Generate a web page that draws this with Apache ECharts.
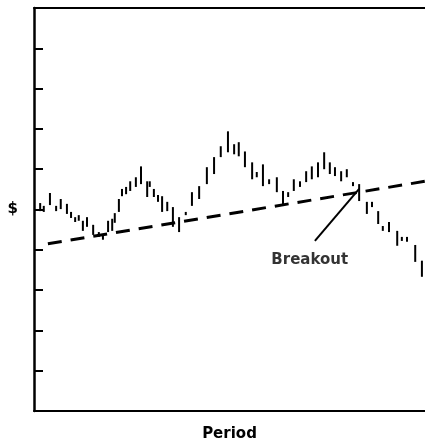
<!DOCTYPE html>
<html>
<head>
<meta charset="utf-8">
<script src="https://cdn.jsdelivr.net/npm/echarts@6/dist/echarts.min.js"></script>
<style>
  html, body { margin: 0; padding: 0; background: #fff; }
  #chart { width: 425px; height: 447px; }
</style>
</head>
<body>
<div id="chart"></div>
<script>
// period position of each price bar
const periods = [1.2, 1.9, 3.1, 4.3, 5.2, 6.4, 7.2, 8.0, 8.7, 9.5,
  10.3, 11.5, 12.6, 13.4, 14.4, 15.2, 15.7, 16.5, 17.1, 17.9,
  18.7, 19.8, 20.8, 22.0, 22.5, 23.3, 24.1, 24.9, 25.9, 27.0,
  28.2, 29.5, 30.7, 32.1, 33.6, 35.0, 36.3, 37.7, 38.9, 39.8,
  41.0, 42.4, 43.3, 44.5, 45.7, 47.2, 48.4, 49.4, 50.5, 51.7,
  52.9, 54.0, 55.2, 56.4, 57.5, 58.5, 59.7, 60.8, 62.0, 63.2,
  64.7, 65.7, 66.9, 67.8, 69.0, 70.6, 71.5, 72.5, 74.1, 75.4];
const highs = [5.16, 5.09, 5.41, 5.09, 5.26, 5.14, 4.94, 4.81, 4.86, 4.72,
  4.81, 4.62, 4.44, 4.37, 4.72, 4.77, 4.91, 5.26, 5.51, 5.56,
  5.70, 5.80, 6.07, 5.70, 5.70, 5.51, 5.36, 5.33, 5.19, 5.06,
  4.81, 4.94, 5.43, 5.58, 6.05, 6.30, 6.57, 6.94, 6.62, 6.67,
  6.44, 6.17, 5.93, 6.12, 5.75, 5.80, 5.46, 5.43, 5.75, 5.70,
  5.95, 6.07, 6.17, 6.42, 6.17, 6.05, 5.95, 6.00, 5.68, 5.63,
  5.19, 5.19, 4.96, 4.59, 4.69, 4.47, 4.32, 4.32, 4.12, 3.73];
const lows = [4.96, 4.94, 5.11, 4.96, 5.01, 4.89, 4.79, 4.69, 4.72, 4.47,
  4.57, 4.37, 4.32, 4.25, 4.44, 4.47, 4.67, 4.94, 5.33, 5.38,
  5.46, 5.56, 5.63, 5.31, 5.56, 5.31, 5.19, 4.94, 4.96, 4.57,
  4.44, 4.86, 5.09, 5.26, 5.63, 5.88, 6.30, 6.42, 6.37, 6.32,
  6.05, 5.75, 5.80, 5.58, 5.63, 5.43, 5.09, 5.31, 5.46, 5.56,
  5.68, 5.75, 5.80, 6.00, 5.88, 5.83, 5.70, 5.80, 5.58, 5.21,
  4.89, 5.06, 4.64, 4.47, 4.44, 4.10, 4.22, 4.20, 3.70, 3.33];

// dashed trend line (start / end)
const trendX = [2.7, 76];
const trendY = [4.15, 5.70];
// pointer from the breakout point to the label
const pointerX = [63.2, 54.6];
const pointerY = [5.51, 4.22];
const labelPos = [53.6, 3.74];
const labelText = 'Breakout';

const font = 'DejaVu Sans';
const chart = echarts.init(document.getElementById('chart'));

chart.setOption({
  backgroundColor: '#fff',
  animation: false,
  grid: { left: 34, right: 0, top: 8, bottom: 34 },
  xAxis: [
    {
      type: 'value', min: 0, max: 76,
      name: 'Period', nameLocation: 'middle', nameGap: 16,
      nameTextStyle: { color: '#000', fontFamily: font, fontWeight: 'bold', fontSize: 15 },
      axisLine: { lineStyle: { color: '#000', width: 2 } },
      axisTick: { show: false },
      axisLabel: { show: false },
      splitLine: { show: false }
    },
    {
      type: 'value', min: 0, max: 76, position: 'top',
      axisLine: { lineStyle: { color: '#000', width: 2 } },
      axisTick: { show: false },
      axisLabel: { show: false },
      splitLine: { show: false }
    }
  ],
  yAxis: {
    type: 'value', min: 0, max: 10, interval: 1,
    axisLine: { lineStyle: { color: '#000', width: 2.5 } },
    axisTick: { inside: true, length: 9, lineStyle: { color: '#000', width: 2 } },
    axisLabel: {
      margin: 16, color: '#000', fontFamily: font, fontWeight: 'bold', fontSize: 15,
      formatter: v => (v === 5 ? '$' : '')
    },
    splitLine: { show: false }
  },
  series: [
    {
      type: 'custom',
      data: periods.map((p, i) => [p, highs[i], lows[i]]),
      encode: { x: 0, y: [1, 2] },
      renderItem: function (params, api) {
        const x = api.value(0);
        const hi = api.coord([x, api.value(1)]);
        const lo = api.coord([x, api.value(2)]);
        return {
          type: 'line',
          shape: { x1: hi[0], y1: hi[1], x2: lo[0], y2: lo[1] },
          style: { stroke: '#000', lineWidth: 2 }
        };
      }
    },
    {
      type: 'line',
      data: trendX.map((x, i) => [x, trendY[i]]),
      symbol: 'none',
      lineStyle: { color: '#000', width: 3, type: [14, 9] }
    },
    {
      type: 'line',
      data: pointerX.map((x, i) => [x, pointerY[i]]),
      symbol: 'none',
      lineStyle: { color: '#000', width: 2 }
    },
    {
      type: 'scatter',
      data: [labelPos],
      symbolSize: 0,
      label: {
        show: true, position: 'inside', formatter: labelText,
        color: '#000', fontFamily: font, fontWeight: 'bold', fontSize: 15
      }
    }
  ]
});
</script>
</body>
</html>
